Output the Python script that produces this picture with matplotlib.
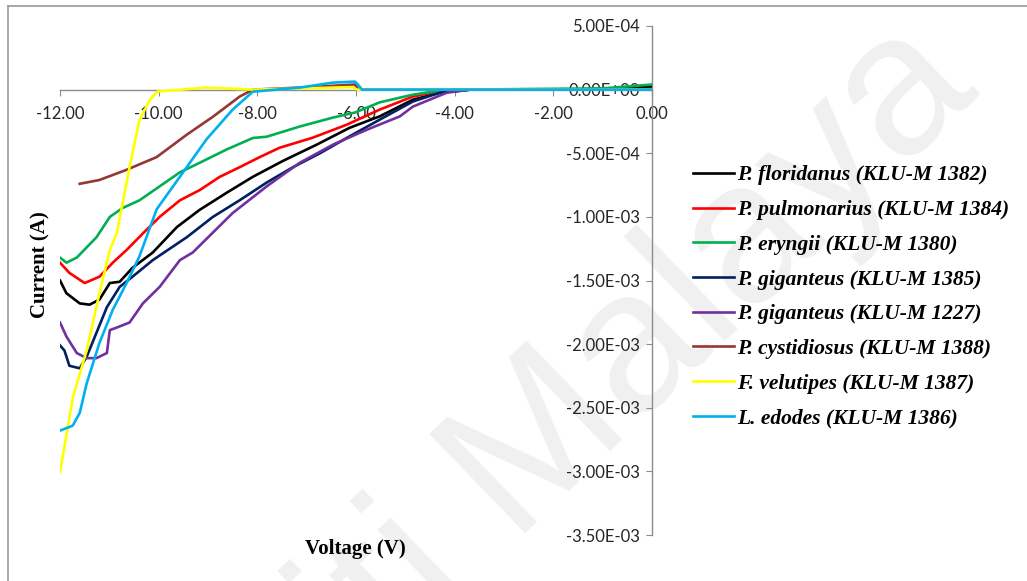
import matplotlib
matplotlib.use("Agg")
import matplotlib.pyplot as plt
from matplotlib.ticker import MultipleLocator, FuncFormatter
from matplotlib.lines import Line2D

# I-V curves (voltage in V, current in mA -> scaled to A below)
v_flor = [-12.0, -11.87, -11.6, -11.4, -11.2, -10.99, -10.79, -10.53, -10.12, -9.63, -9.17, -8.62,
          -8.09, -7.48, -6.8, -6.13, -5.52, -4.85, -4.3, -3.69, -2.0, -1.0, 0.0]
i_flor = [-1.50, -1.60, -1.68, -1.69, -1.65, -1.52, -1.51, -1.40, -1.28, -1.08, -0.945, -0.81,
          -0.685, -0.56, -0.433, -0.30, -0.21, -0.08, -0.024, 0.0, 0.0, 0.005, 0.025]

v_pulm = [-12.0, -11.81, -11.5, -11.2, -10.93, -10.65, -10.32, -9.98, -9.57, -9.17, -8.76, -8.36,
          -7.95, -7.55, -6.88, -6.19, -5.52, -4.85, -4.36, -3.89, 0.0]
i_pulm = [-1.36, -1.44, -1.52, -1.47, -1.36, -1.26, -1.13, -1.00, -0.87, -0.79, -0.685, -0.61,
          -0.53, -0.457, -0.378, -0.276, -0.157, -0.055, -0.016, 0.0, 0.0]

v_eryn = [-12.0, -11.87, -11.66, -11.26, -10.99, -10.73, -10.39, -9.98, -9.57, -9.17, -8.62, -8.09,
          -7.81, -7.14, -6.47, -6.02, -5.52, -4.85, -4.44, -3.89, -1.0, 0.0]
i_eryn = [-1.32, -1.36, -1.32, -1.16, -1.00, -0.93, -0.87, -0.76, -0.65, -0.575, -0.47, -0.38,
          -0.37, -0.29, -0.22, -0.18, -0.10, -0.04, -0.016, 0.0, 0.01, 0.04]

v_gig85 = [-12.0, -11.91, -11.81, -11.6, -11.46, -11.26, -11.05, -10.79, -10.53, -10.12, -9.43, -8.9,
           -8.36, -7.81, -7.28, -6.73, -6.19, -5.52, -4.85, -4.3, -3.69, 0.0]
i_gig85 = [-2.01, -2.05, -2.17, -2.19, -2.10, -1.91, -1.71, -1.55, -1.47, -1.34, -1.16, -1.00,
           -0.87, -0.73, -0.61, -0.50, -0.38, -0.236, -0.094, -0.024, 0.0, 0.0]

v_gig27 = [-12.0, -11.87, -11.66, -11.46, -11.26, -11.05, -10.99, -10.85, -10.59, -10.32, -9.98, -9.57,
           -9.31, -8.5, -7.81, -7.14, -6.47, -5.78, -5.11, -4.85, -4.16, -3.69, 0.0]
i_gig27 = [-1.83, -1.94, -2.07, -2.11, -2.11, -2.07, -1.89, -1.87, -1.83, -1.68, -1.55, -1.34,
           -1.28, -0.97, -0.76, -0.575, -0.433, -0.315, -0.21, -0.134, -0.024, 0.0, 0.0]

v_cyst = [-11.6, -11.2, -10.65, -10.04, -9.43, -8.9, -8.36, -8.09, -7.14, -6.02, -5.95, 0.0]
i_cyst = [-0.74, -0.71, -0.63, -0.53, -0.354, -0.213, -0.055, 0.0, 0.016, 0.04, 0.0, 0.0]

v_velu = [-12.0, -11.74, -11.46, -11.2, -10.99, -10.85, -10.59, -10.39, -10.18, -10.02, -9.03, -8.09,
          -6.06, -5.98, 0.0]
i_velu = [-3.01, -2.42, -2.05, -1.60, -1.26, -1.13, -0.61, -0.24, -0.08, -0.015, 0.016, 0.0,
          0.02, 0.0, 0.0]

v_edod = [-12.0, -11.74, -11.6, -11.46, -11.2, -10.93, -10.65, -10.39, -10.04, -9.57, -9.03, -8.5,
          -8.09, -7.14, -6.47, -6.02, -5.96, -5.88, 0.0]
i_edod = [-2.68, -2.64, -2.54, -2.31, -1.99, -1.73, -1.52, -1.31, -0.94, -0.685, -0.39, -0.157,
          -0.016, 0.016, 0.055, 0.063, 0.04, 0.0, 0.0]

labels = ["P. floridanus (KLU-M 1382)", "P. pulmonarius (KLU-M 1384)", "P. eryngii (KLU-M 1380)",
          "P. giganteus (KLU-M 1385)", "P. giganteus (KLU-M 1227)", "P. cystidiosus (KLU-M 1388)",
          "F. velutipes (KLU-M 1387)", "L. edodes (KLU-M 1386)"]
colors = ["#000000", "#ff0000", "#00b050", "#002060", "#7030a0", "#953735", "#ffff00", "#00b0f0"]

series = [(v_flor, i_flor), (v_pulm, i_pulm), (v_eryn, i_eryn), (v_gig85, i_gig85),
          (v_gig27, i_gig27), (v_cyst, i_cyst), (v_velu, i_velu), (v_edod, i_edod)]

fig = plt.figure(figsize=(10.27, 5.81), dpi=100)

# faint watermark behind everything
fig.text(0.955, 0.84, "Universiti Malaya", fontsize=145, family="Liberation Sans",
         color="#f0f0f0", rotation=44, rotation_mode="anchor", ha="right", va="baseline", zorder=-5)

# page border
fig.add_artist(Line2D([8 / 1027, 1.0], [1 - 6 / 581, 1 - 6 / 581], color="#9a9a9a", lw=1.2))
fig.add_artist(Line2D([8 / 1027, 8 / 1027], [0, 1 - 6 / 581], color="#9a9a9a", lw=1.2))

ax = fig.add_axes([60 / 1027, 1 - 535 / 581, 592 / 1027, 509 / 581])
ax.set_zorder(1)
ax.patch.set_alpha(0)

for (v, i), lab, c in zip(series, labels, colors):
    ax.plot(v, [x * 1e-3 for x in i], color=c, lw=1.9, label=lab, zorder=3)

ax.set_xlim(-12, 0)
ax.set_ylim(-3.5e-3, 5e-4)

for s in ["top", "right"]:
    ax.spines[s].set_visible(False)
ax.spines["bottom"].set_position(("data", 0))
ax.spines["left"].set_position(("data", 0))
for s in ["bottom", "left"]:
    ax.spines[s].set_color("#8c8c8c")
    ax.spines[s].set_linewidth(1.0)

ax.xaxis.set_major_locator(MultipleLocator(2))
ax.yaxis.set_major_locator(MultipleLocator(5e-4))
ax.xaxis.set_major_formatter(FuncFormatter(lambda x, p: f"{x:.2f}"))
ax.yaxis.set_major_formatter(FuncFormatter(lambda y, p: "0.00E+00" if abs(y) < 1e-12 else f"{y:.2E}"))

ax.tick_params(axis="x", direction="out", length=4, color="#8c8c8c", pad=8, labelcolor="#262626")
ax.tick_params(axis="y", direction="out", length=4, color="#8c8c8c", pad=5, labelcolor="#262626")
for t in ax.get_xticklabels() + ax.get_yticklabels():
    t.set_fontfamily("Lato")
    t.set_fontsize(12)

fig.text(40 / 1027, 1 - 265 / 581, "Current (A)", rotation=90, ha="center", va="center",
         family="Liberation Serif", fontweight="bold", fontsize=15)
fig.text(355 / 1027, 1 - 549 / 581, "Voltage (V)", ha="center", va="center",
         family="Liberation Serif", fontweight="bold", fontsize=15)

leg = ax.legend(loc="upper left", bbox_to_anchor=(674 / 1027, 1 - 146 / 581),
                bbox_transform=fig.transFigure, frameon=False, handlelength=1.9,
                handletextpad=0.15, labelspacing=0.68,
                prop={"family": "Liberation Serif", "weight": "bold", "style": "italic", "size": 15.5})

fig.savefig("out.png", dpi=100)
